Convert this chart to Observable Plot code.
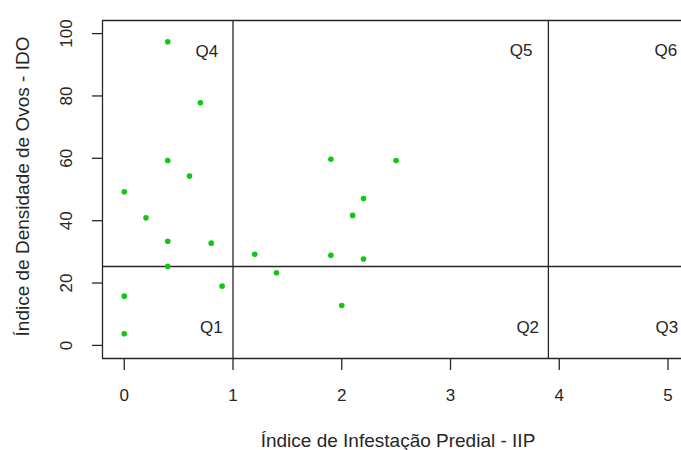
<!DOCTYPE html>
<html><head><meta charset="utf-8">
<script src="https://cdn.jsdelivr.net/npm/d3@7"></script>
<script src="https://cdn.jsdelivr.net/npm/@observablehq/plot@0.6"></script>
<style>html,body{margin:0;padding:0;background:#fff}svg{display:block}</style>
</head><body><div id="chart"></div>
<script>
// Data
const iip = [0.4, 0.7, 0.4, 0.6, 0.0, 0.2, 1.9, 0.4, 0.8, 1.2, 1.9, 0.4, 1.4, 0.9, 0.0, 0.0, 2.5, 2.2, 2.1, 2.2, 2.0];
const ido = [97.4, 77.8, 59.3, 54.3, 49.3, 40.9, 59.7, 33.4, 32.8, 29.2, 28.9, 25.4, 23.3, 19.0, 15.8, 3.7, 59.3, 47.1, 41.7, 27.7, 12.8];
const xTicks = [0, 1, 2, 3, 4, 5];
const yTicks = [0, 20, 40, 60, 80, 100];
const cutsX = [1, 3.9];
const cutsY = [25.3];
const quadNames = ["Q1", "Q2", "Q3", "Q4", "Q5", "Q6"];
const quadX = [0.8, 3.71, 4.99, 0.76, 3.65, 4.98];
const quadY = [5.6, 5.6, 5.6, 94.4, 94.6, 94.6];
const xTitle = "Índice de Infestação Predial - IIP";
const yTitle = "Índice de Densidade de Ovos - IDO";

const points = iip.map((x, i) => ({x, y: ido[i]}));
const quads = quadNames.map((q, i) => ({q, x: quadX[i], y: quadY[i]}));

const xDom = [-0.2, 5.124];
const yDom = [-4.2, 104.2];
const ink = "#262626";

const chart = Plot.plot({
  width: 681, height: 450,
  marginLeft: 102, marginRight: 0, marginTop: 20, marginBottom: 92,
  x: {domain: xDom},
  y: {domain: yDom},
  style: {fontFamily: "'Liberation Sans', Arial, sans-serif", color: ink, background: "#fff"},
  marks: [
    // box (right edge is cut off in the reference)
    Plot.ruleX([xDom[0]], {stroke: ink, strokeWidth: 1.3}),
    Plot.ruleY([yDom[0], yDom[1]], {stroke: ink, strokeWidth: 1.3}),
    // quadrant cut lines
    Plot.ruleX(cutsX, {stroke: ink, strokeWidth: 1.3}),
    Plot.ruleY(cutsY, {stroke: ink, strokeWidth: 1.3}),
    Plot.axisX({ticks: xTicks, tickFormat: d => String(d), tickSize: 12, tickPadding: 18, fontSize: 17, label: null, stroke: ink, strokeWidth: 1.3}),
    Plot.axisY({ticks: yTicks, tickFormat: d => String(d), tickSize: 10, tickPadding: 21, tickRotate: -90, fontSize: 17, label: null, stroke: ink, strokeWidth: 1.3}),
    Plot.dot(points, {x: "x", y: "y", r: 2.8, fill: "#10c810", stroke: null}),
    Plot.text(quads, {x: "x", y: "y", text: "q", fontSize: 17, fill: ink}),
    Plot.text([xTitle], {frameAnchor: "bottom", text: d => d, textAnchor: "middle", lineAnchor: "middle", dx: 6, dy: 82, fontSize: 19, fill: ink}),
    Plot.text([yTitle], {frameAnchor: "left", text: d => d, textAnchor: "middle", lineAnchor: "middle", rotate: -90, dx: -80, dy: -3, fontSize: 19, fill: ink})
  ]
});
document.getElementById("chart").append(chart);
</script>
</body></html>
